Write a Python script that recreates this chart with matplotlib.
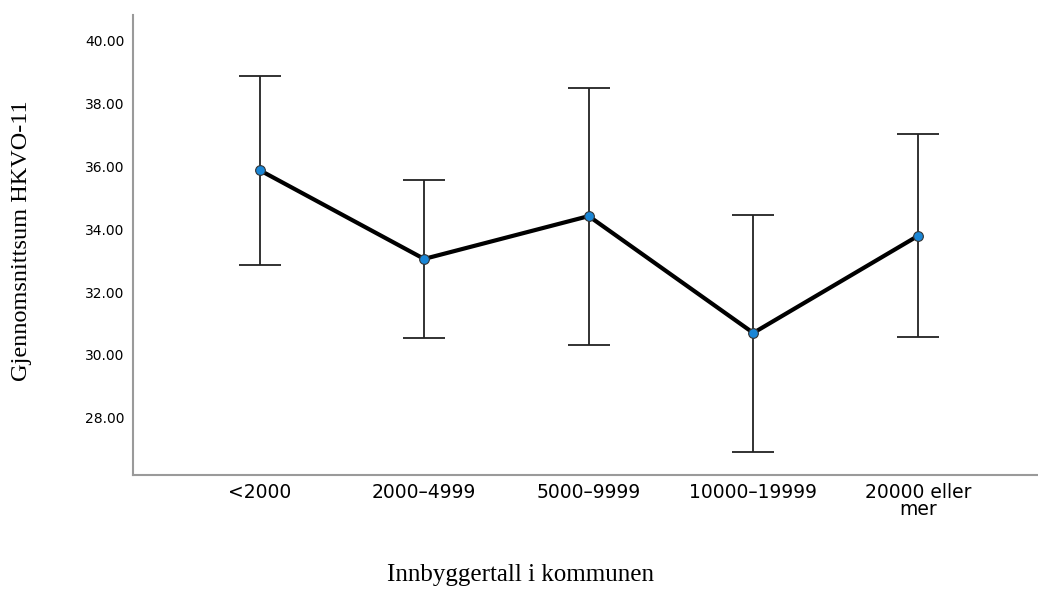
import numpy as np
import matplotlib.pyplot as plt

categories = ["<2000", "2000–4999", "5000–9999", "10000–19999", "20000 eller\nmer"]
means = [35.87, 33.05, 34.41, 30.70, 33.78]
upper = [38.86, 35.56, 38.48, 34.44, 37.02]
lower = [32.86, 30.54, 30.32, 26.92, 30.57]
yticks = [28, 30, 32, 34, 36, 38, 40]

fig = plt.figure(figsize=(10.38, 6.07), dpi=100)
ax = fig.add_axes([0.128, 0.2175, 0.872, 0.7575])

x = np.arange(len(categories))
means = np.array(means)
err = [means - np.array(lower), np.array(upper) - means]

ax.errorbar(x, means, yerr=err, fmt="none", ecolor="#222222", elinewidth=1.3,
            capsize=15, capthick=1.3, zorder=2)
ax.plot(x, means, color="black", lw=3, zorder=3)
ax.plot(x, means, "o", ms=7, mfc="#1a86d6", mec="#333333", mew=0.8, zorder=4)

ax.set_xlim(-0.77, 4.73)
ax.set_ylim(26.19, 40.79)
ax.set_yticks(yticks)
ax.set_yticklabels([f"{v:.2f}" for v in yticks], fontsize=10)
ax.set_xticks(x)
ax.set_xticklabels(categories, fontsize=13.5, linespacing=0.85)
ax.tick_params(axis="both", length=0)
ax.tick_params(axis="y", pad=6)
ax.tick_params(axis="x", pad=6)

for s in ["top", "right"]:
    ax.spines[s].set_visible(False)
for s in ["left", "bottom"]:
    ax.spines[s].set_color("#9a9a9a")
    ax.spines[s].set_linewidth(1.5)

fig.text(0.021, 0.603, "Gjennomsnittsum HKVO-11", rotation=90, ha="center", va="center",
         fontsize=17.5, family="Liberation Serif")
fig.text(0.501, 0.053, "Innbyggertall i kommunen", ha="center", va="center",
         fontsize=18, family="Liberation Serif")

fig.savefig("out.png", dpi=100)
